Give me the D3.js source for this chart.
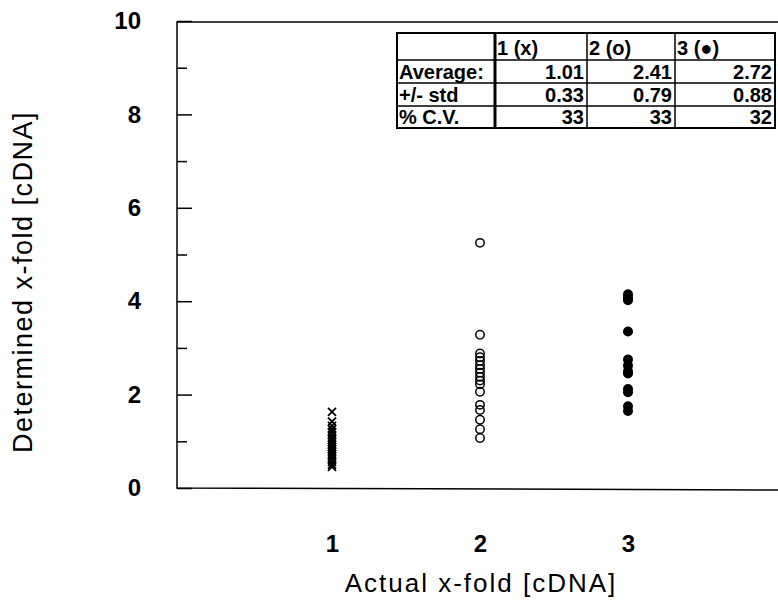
<!DOCTYPE html>
<html>
<head>
<meta charset="utf-8">
<script src="https://cdn.jsdelivr.net/npm/d3@7"></script>
<style>
  body { margin: 0; background: #fff; }
  svg { font-family: "Liberation Sans", Arial, sans-serif; }
  .axis path, .axis line { stroke: #000; stroke-width: 1.5; }
  .axis text { font-weight: bold; font-size: 24px; fill: #000; }
</style>
</head>
<body>
<div id="chart"></div>
<script>
// values
let groups = [1, 2, 3];
let crossVals = [1.63, 1.42, 1.33, 1.26, 1.2, 1.14, 1.08, 1.03, 0.98, 0.93, 0.88, 0.83, 0.78, 0.73, 0.68, 0.62, 0.56, 0.5, 0.45];
let openVals = [5.25, 3.28, 2.88, 2.8, 2.72, 2.63, 2.55, 2.47, 2.38, 2.3, 2.22, 2.06, 1.78, 1.67, 1.46, 1.26, 1.07];
let filledVals = [4.15, 4.08, 4.02, 3.35, 2.75, 2.62, 2.5, 2.45, 2.12, 2.05, 1.75, 1.65];

let tableHead = ["", "1  (x)", "2  (o)", "3  (\u25CF)"];
let rowLabels = ["Average:", "+/- std", "% C.V."];
let averages = ["1.01", "2.41", "2.72"];
let stds = ["0.33", "0.79", "0.88"];
let cvs = ["33", "33", "32"];

let yTicks = [0, 2, 4, 6, 8, 10];
let yMinor = [1, 3, 5, 7, 9];

let width = 778, height = 600;
let plot = {left: 177, right: 778, top: 22, bottom: 488};

let svg = d3.select("#chart").append("svg")
    .attr("width", width)
    .attr("height", height);

let x = d3.scaleLinear().domain([1, 3]).range([332, 628]);
let y = d3.scaleLinear().domain([0, 10]).range([plot.bottom, 21]);

// frame: top, left, bottom (no right side)
svg.append("path")
    .attr("d", `M${plot.right},${plot.top}L${plot.left},${plot.top}L${plot.left},${plot.bottom}L${plot.right},${plot.bottom + 2}`)
    .attr("fill", "none")
    .attr("stroke", "#000")
    .attr("stroke-width", 1.5);

// y axis, ticks pointing inward
svg.append("g")
    .attr("class", "axis")
    .attr("transform", `translate(${plot.left},0)`)
    .call(d3.axisLeft(y).tickValues(yTicks).tickSize(-15).tickPadding(36).tickFormat(d3.format("d")))
    .call(g => g.select(".domain").remove());

svg.append("g")
    .attr("class", "axis")
    .attr("transform", `translate(${plot.left},0)`)
    .call(d3.axisLeft(y).tickValues(yMinor).tickSize(-10).tickFormat(""))
    .call(g => g.select(".domain").remove());

// x axis labels only
svg.append("g")
    .attr("class", "axis")
    .attr("transform", `translate(0,${plot.bottom})`)
    .call(d3.axisBottom(x).tickValues(groups).tickSize(0).tickPadding(47).tickFormat(d3.format("d")))
    .call(g => g.select(".domain").remove());

// axis titles
svg.append("text")
    .attr("x", 481)
    .attr("y", 592)
    .attr("text-anchor", "middle")
    .style("font-size", "26px")
    .style("letter-spacing", "2px")
    .text("Actual x-fold [cDNA]");

svg.append("text")
    .attr("transform", "translate(32,282) rotate(-90)")
    .attr("text-anchor", "middle")
    .style("font-size", "27px")
    .style("letter-spacing", "1.5px")
    .text("Determined x-fold [cDNA]");

// markers
let cs = 4;
svg.append("g").selectAll("path")
    .data(crossVals)
    .enter()
    .append("path")
    .attr("d", d => {
        let cx = x(1), cy = y(d);
        return `M${cx - cs},${cy - cs}L${cx + cs},${cy + cs}M${cx - cs},${cy + cs}L${cx + cs},${cy - cs}`;
    })
    .attr("stroke", "#000")
    .attr("stroke-width", 1.8);

svg.append("g").selectAll("circle")
    .data(openVals)
    .enter()
    .append("circle")
    .attr("cx", x(2))
    .attr("cy", d => y(d))
    .attr("r", 4.2)
    .attr("fill", "none")
    .attr("stroke", "#000")
    .attr("stroke-width", 1.5);

svg.append("g").selectAll("circle")
    .data(filledVals)
    .enter()
    .append("circle")
    .attr("cx", x(3))
    .attr("cy", d => y(d))
    .attr("r", 5)
    .attr("fill", "#000");

// stats table
let colEdges = [397, 495, 587, 675, 775];
let rowEdges = [33, 60, 83, 106, 128];
let rows = [tableHead, [rowLabels[0]].concat(averages), [rowLabels[1]].concat(stds), [rowLabels[2]].concat(cvs)];

let table = svg.append("g")
    .style("font-weight", "bold")
    .style("font-size", "20px")
    .style("white-space", "pre");

table.append("rect")
    .attr("x", colEdges[0]).attr("y", rowEdges[0])
    .attr("width", colEdges[4] - colEdges[0])
    .attr("height", rowEdges[4] - rowEdges[0])
    .attr("fill", "#fff")
    .attr("stroke", "#000")
    .attr("stroke-width", 2);

table.selectAll(".vline")
    .data(colEdges.slice(1, 4))
    .enter()
    .append("line")
    .attr("x1", d => d).attr("x2", d => d)
    .attr("y1", rowEdges[0]).attr("y2", rowEdges[4])
    .attr("stroke", "#000")
    .attr("stroke-width", (d, i) => i == 0 ? 3 : 1.5);

table.selectAll(".hline")
    .data(rowEdges.slice(1, 4))
    .enter()
    .append("line")
    .attr("x1", colEdges[0]).attr("x2", colEdges[4])
    .attr("y1", d => d).attr("y2", d => d)
    .attr("stroke", "#000")
    .attr("stroke-width", 1.5);

rows.forEach((row, r) => {
    row.forEach((txt, c) => {
        let leftAlign = (r == 0 || c == 0);
        table.append("text")
            .attr("x", leftAlign ? colEdges[c] + 2 : colEdges[c + 1] - 3)
            .attr("y", (rowEdges[r] + rowEdges[r + 1]) / 2 + (r == 0 ? 8 : 7))
            .attr("text-anchor", leftAlign ? "start" : "end")
            .text(txt);
    });
});
</script>
</body>
</html>
